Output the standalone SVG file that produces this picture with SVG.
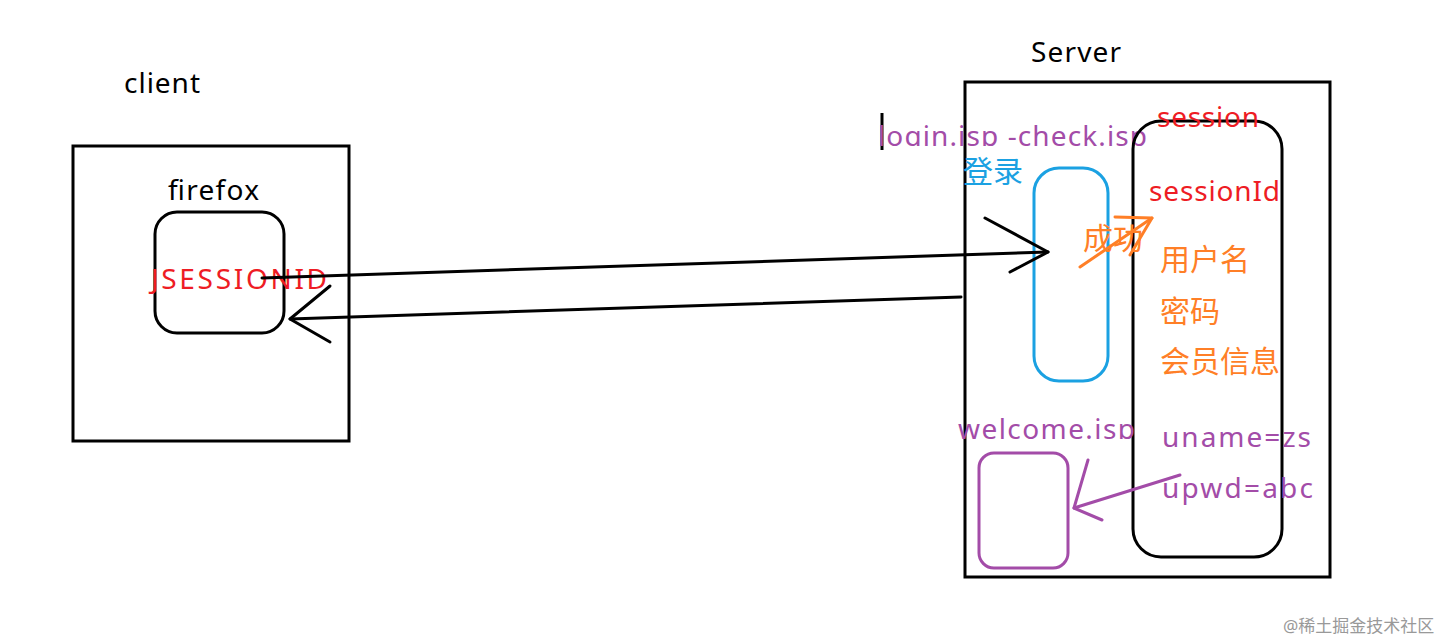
<svg xmlns="http://www.w3.org/2000/svg" width="1450" height="642" viewBox="0 0 1450 642">
<style>
text{font-family:"Noto Sans","Noto Sans CJK SC",sans-serif;font-size:28px}
.cj{font-size:30px}
.k{fill:#000}.r{fill:#ee1c24}.p{fill:#a34ca8}.o{fill:#ff7f27}.b{fill:#1ba1e2}
.box{fill:none;stroke:#000;stroke-width:3}
.ln{fill:none;stroke-width:3;stroke-linecap:round;stroke-linejoin:round}
</style>
<defs>
<clipPath id="c1"><rect x="870" y="100" width="300" height="46"/></clipPath>
<clipPath id="c2"><rect x="950" y="400" width="200" height="39"/></clipPath>
</defs>
<rect width="1450" height="642" fill="#fff"/>
<g id="client"><text x="124" y="93" class="k" textLength="76">client</text><rect class="box" x="73" y="146" width="276" height="295"/></g>
<g id="firefox"><text x="168" y="200" class="k" textLength="91">firefox</text><rect class="box" x="155" y="212" width="129" height="121" rx="22"/><text x="151" y="289" class="r" textLength="176">JSESSIONID</text></g>
<g id="server"><text x="1031" y="62" class="k" textLength="90">Server</text><rect class="box" x="965" y="82" width="365" height="495"/>
<line x1="882" y1="113" x2="882" y2="150" stroke="#000" stroke-width="3"/>
<text x="878" y="146" class="p" clip-path="url(#c1)" textLength="269">login.jsp -check.jsp</text></g>
<g id="login"><text x="963" y="182" class="b cj">登录</text><rect x="1034" y="168" width="74" height="213" rx="25" fill="none" stroke="#1ba1e2" stroke-width="3"/></g>
<g id="session"><rect class="box" x="1133" y="121" width="149" height="436" rx="28"/>
<text x="1157" y="127" class="r" textLength="102">session</text><text x="1149" y="201" class="r" textLength="131">sessionId</text>
<text x="1160" y="270" class="o cj">用户名</text><text x="1160" y="322" class="o cj">密码</text><text x="1160" y="372" class="o cj">会员信息</text>
<text x="1162" y="447" class="p" textLength="149">uname=zs</text><text x="1162" y="498" class="p" textLength="151">upwd=abc</text></g>
<g id="welcome"><text x="958" y="439" class="p" clip-path="url(#c2)" textLength="177">welcome.jsp</text><rect x="979" y="453" width="89" height="115" rx="15" fill="none" stroke="#a34ca8" stroke-width="3"/></g>
<g id="connectors">
<polyline class="ln" stroke="#000" points="262,278 1048,252"/><polyline class="ln" stroke="#000" points="985,218 1048,252 1010,272"/>
<polyline class="ln" stroke="#000" points="961,297 290,319"/><polyline class="ln" stroke="#000" points="330,286 290,319 330,342"/>
<text x="1083" y="249" class="o cj">成功</text>
<polyline class="ln" stroke="#ff7f27" points="1080,267 1152,218"/><polyline class="ln" stroke="#ff7f27" points="1115,217 1152,218 1130,255"/>
<polyline class="ln" stroke="#a34ca8" points="1180,475 1074,508"/><polyline class="ln" stroke="#a34ca8" points="1088,460 1074,508 1102,520"/>
</g>
<text x="1283" y="632" style="font-size:17px;fill:#999">@稀土掘金技术社区</text>
</svg>
